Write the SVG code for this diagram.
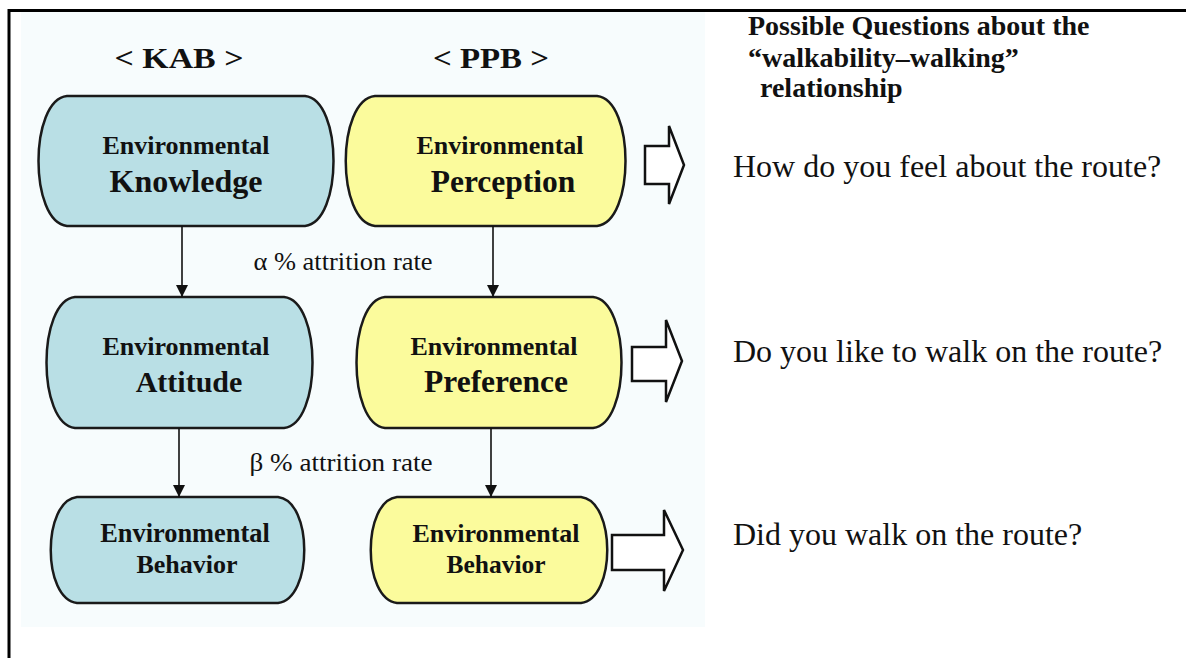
<svg xmlns="http://www.w3.org/2000/svg" width="1186" height="658" viewBox="0 0 1186 658">
<defs>
<style>
.t{font-family:"Liberation Serif","Times New Roman",serif;fill:#111}
.b{font-weight:bold}
.node{stroke:#1a1a1a;stroke-width:2.5}
.blue{fill:#b9dfe5}
.yel{fill:#fbfb9c}
.conn{stroke:#111;stroke-width:1.6;fill:none}
.hollow{fill:#ffffff;stroke:#111;stroke-width:2.5;stroke-linejoin:miter}
</style>
<marker id="ah" viewBox="0 0 12 12" refX="12" refY="6" markerWidth="12" markerHeight="12" markerUnits="userSpaceOnUse" orient="auto">
<path d="M0,0 L12,6 L0,12 Z" fill="#111"/>
</marker>
</defs>
<rect x="0" y="0" width="1186" height="658" fill="#ffffff"/>
<rect x="21" y="12" width="684" height="615" fill="#f7fcfd"/>
<path d="M9,658 V10.5 H1186" fill="none" stroke="#000" stroke-width="3"/>

<text class="t b" x="179" y="68" font-size="30" text-anchor="middle" textLength="129" lengthAdjust="spacingAndGlyphs">&lt; KAB &gt;</text>
<text class="t b" x="491" y="68" font-size="30" text-anchor="middle" textLength="116" lengthAdjust="spacingAndGlyphs">&lt; PPB &gt;</text>

<g id="n-knowledge">
<path class="node blue" d="M67,96 H305 C343,100 343,222 305,226 H67 C29,222 29,100 67,96 Z"/>
<text class="t b" x="186" y="154" font-size="26" text-anchor="middle">Environmental</text>
<text class="t b" x="186" y="192" font-size="32" text-anchor="middle">Knowledge</text>
</g>
<g id="n-perception">
<path class="node yel" d="M375,96 H597 C635,100 635,222 597,226 H375 C336,222 336,100 375,96 Z"/>
<text class="t b" x="500" y="154" font-size="26" text-anchor="middle">Environmental</text>
<text class="t b" x="503" y="192" font-size="31.5" text-anchor="middle">Perception</text>
</g>
<g id="n-attitude">
<path class="node blue" d="M75,297 H284 C322,301 322,424 284,428 H75 C37,424 37,301 75,297 Z"/>
<text class="t b" x="186" y="355" font-size="26" text-anchor="middle">Environmental</text>
<text class="t b" x="189" y="392" font-size="30" text-anchor="middle">Attitude</text>
</g>
<g id="n-preference">
<path class="node yel" d="M385,297 H593 C631,301 631,424 593,428 H385 C347,424 347,301 385,297 Z"/>
<text class="t b" x="494" y="355" font-size="26" text-anchor="middle">Environmental</text>
<text class="t b" x="496" y="392" font-size="31.5" text-anchor="middle">Preference</text>
</g>
<g id="n-behavior-kab">
<path class="node blue" d="M77,497 H278 C313,501 313,599 278,603 H77 C42,599 42,501 77,497 Z"/>
<text class="t b" x="185" y="542" font-size="26.4" text-anchor="middle">Environmental</text>
<text class="t b" x="187" y="573" font-size="26" text-anchor="middle">Behavior</text>
</g>
<g id="n-behavior-ppb">
<path class="node yel" d="M397,497 H581 C616,501 616,599 581,603 H397 C362,599 362,501 397,497 Z"/>
<text class="t b" x="496" y="542" font-size="26" text-anchor="middle">Environmental</text>
<text class="t b" x="496" y="573" font-size="25.5" text-anchor="middle">Behavior</text>
</g>

<g id="connectors">
<line class="conn" x1="182" y1="226" x2="182" y2="297" marker-end="url(#ah)"/>
<line class="conn" x1="493" y1="226" x2="493" y2="297" marker-end="url(#ah)"/>
<line class="conn" x1="179" y1="428" x2="179" y2="497" marker-end="url(#ah)"/>
<line class="conn" x1="491" y1="428" x2="491" y2="497" marker-end="url(#ah)"/>
<polygon class="hollow" points="645,146 669,146 669,126 684,165 669,204 669,184 645,184"/>
<polygon class="hollow" points="632,347 666,347 666,320 682,361 666,402 666,381 632,381"/>
<polygon class="hollow" points="612,535 664,535 664,510 683,550 664,591 664,570 612,570"/>
</g>

<text class="t" x="343" y="270" font-size="26" text-anchor="middle" textLength="179" lengthAdjust="spacingAndGlyphs">α % attrition rate</text>
<text class="t" x="341" y="471" font-size="26" text-anchor="middle" textLength="183" lengthAdjust="spacingAndGlyphs">β % attrition rate</text>

<g id="questions">
<text class="t b" x="748" y="35" font-size="28">Possible Questions about the</text>
<text class="t b" x="748" y="67" font-size="28">“walkability–walking”</text>
<text class="t b" x="760" y="97" font-size="28">relationship</text>
<text class="t" x="733" y="177" font-size="32">How do you feel about the route?</text>
<text class="t" x="733" y="362" font-size="32">Do you like to walk on the route?</text>
<text class="t" x="733" y="545" font-size="32">Did you walk on the route?</text>
</g>
</svg>
